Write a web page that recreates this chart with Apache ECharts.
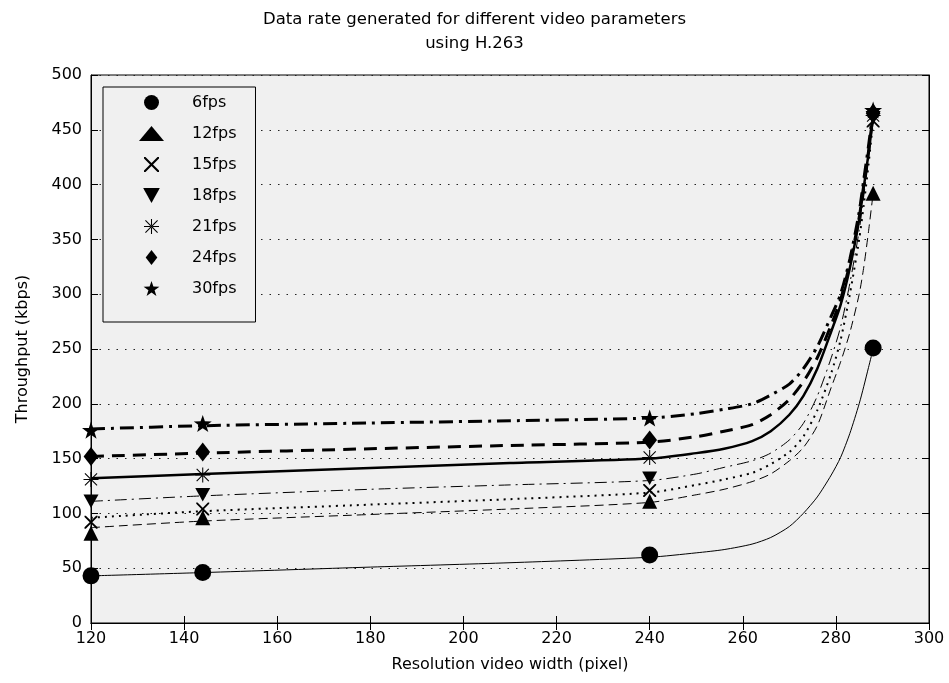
<!DOCTYPE html>
<html>
<head>
<meta charset="utf-8">
<script src="https://cdn.jsdelivr.net/npm/echarts@6/dist/echarts.min.js"></script>
<style>
  html, body { margin: 0; padding: 0; background: #fff; }
  #chart { width: 949px; height: 683px; }
</style>
</head>
<body>
<div id="chart"></div>
<script>
// measured points (x = resolution width, y = throughput kbps)
const markerX = [120, 144, 240, 288];
const fps6 = [43, 46, 62, 251];
const fps12 = [82, 96, 111, 392];
const fps15 = [92, 104, 121, 458];
const fps18 = [111, 117, 132, 461];
const fps21 = [131, 135, 151, 463];
const fps24 = [152, 156, 167, 465];
const fps30 = [176, 182, 187, 468];

// fitted curves
const curveX = [120, 144, 180, 210, 240, 250, 256, 262, 266, 270, 273, 276, 279, 281, 283, 285, 286, 287, 288];
const curve6 = [43, 46, 51, 55, 60, 64, 67, 72, 78, 88, 100, 115, 135, 151, 173, 200, 216, 233, 250];
const curve12 = [87, 93, 99, 104, 110, 117, 122, 129, 136, 148, 160, 180, 215, 238, 265, 300, 325, 357, 392];
const curve15 = [96, 102, 108, 113, 119, 126, 131, 137, 145, 156, 170, 194, 228, 258, 300, 350, 382, 418, 458];
const curve18 = [111, 116, 122, 126, 130, 136, 142, 148, 155, 167, 182, 207, 242, 270, 310, 358, 390, 422, 460];
const curve21 = [132, 136, 141.5, 146, 150, 155, 159, 166, 175, 190, 207, 232, 266, 290, 324, 368, 398, 428, 462];
const curve24 = [152, 155, 159, 162, 165, 170, 175, 181, 190, 204, 220, 242, 272, 295, 328, 370, 400, 430, 465];
const curve30 = [177, 180, 182.5, 184.5, 187, 191, 195, 200, 208, 218, 232, 252, 280, 300, 332, 375, 405, 435, 468];

const names = ["6fps", "12fps", "15fps", "18fps", "21fps", "24fps", "30fps"];

const FONT = '"DejaVu Sans", Arial, sans-serif';

const crossPath = "path://M0,0L2,0L10,8L18,0L20,0L20,2L12,10L20,18L20,20L18,20L10,12L2,20L0,20L0,18L8,10L0,2Z";
const asteriskPath = "path://M9.3,0h1.4v20h-1.4z M0,9.3h20v1.4h-20z M2.4,1.4L1.4,2.4L17.6,18.6L18.6,17.6Z M17.6,1.4L18.6,2.4L2.4,18.6L1.4,17.6Z";
const starPath = "path://M10,0L12.4,7.1L20,7.3L13.9,11.8L16.2,19L10,14.7L3.8,19L6.1,11.8L0,7.3L7.6,7.1Z";
const downTriPath = "path://M0,0L20,0L10,18Z";
const diamondPath = "path://M7,0L14,9L7,18L0,9Z";

const markers = [
  { data: fps6, symbol: "circle", size: 17 },
  { data: fps12, symbol: "triangle", size: 15 },
  { data: fps15, symbol: crossPath, size: 13 },
  { data: fps18, symbol: downTriPath, size: 15 },
  { data: fps21, symbol: asteriskPath, size: 15 },
  { data: fps24, symbol: diamondPath, size: 19 },
  { data: fps30, symbol: starPath, size: 18 }
];

const curves = [
  { data: curve6, width: 1, type: "solid" },
  { data: curve12, width: 1, type: [9, 5] },
  { data: curve15, width: 2, type: [2, 5] },
  { data: curve18, width: 1, type: [12, 5, 2, 5] },
  { data: curve21, width: 2.5, type: "solid" },
  { data: curve24, width: 3, type: [13, 8] },
  { data: curve30, width: 3, type: [14, 6, 3, 6] }
];

const chart = echarts.init(document.getElementById("chart"));

let series = [];
curves.forEach((c, i) => {
  series.push({
    name: names[i] + " fit",
    type: "line",
    data: curveX.map((x, j) => [x, c.data[j]]),
    showSymbol: false,
    smooth: 0.25,
    lineStyle: { color: "#000", width: c.width, type: c.type },
    z: 2,
    silent: true
  });
});
markers.forEach((m, i) => {
  series.push({
    name: names[i],
    type: "scatter",
    data: markerX.map((x, j) => [x, m.data[j]]),
    symbol: m.symbol,
    symbolSize: m.size,
    symbolKeepAspect: true,
    itemStyle: { color: "#000", opacity: 1 },
    z: 3
  });
});

const option = {
  animation: false,
  backgroundColor: "#fff",
  title: {
    text: "Data rate generated for different video parameters\nusing H.263",
    left: "center",
    top: 3,
    textStyle: { fontFamily: FONT, fontSize: 16.5, fontWeight: "normal", color: "#000", lineHeight: 24 }
  },
  legend: {
    data: names,
    orient: "vertical",
    left: 103,
    top: 87,
    backgroundColor: "#f0f0f0",
    borderColor: "#000",
    borderWidth: 1,
    borderRadius: 0,
    padding: [7.5, 19, 25.5, 36],
    itemWidth: 25,
    itemHeight: 15,
    itemGap: 15,
    selectedMode: false,
    textStyle: { fontFamily: FONT, fontSize: 16, color: "#000", padding: [0, 0, 0, 23] }
  },
  grid: {
    left: 91,
    right: 20,
    top: 75,
    bottom: 60,
    show: true,
    backgroundColor: "#f0f0f0",
    borderColor: "#000",
    borderWidth: 1
  },
  xAxis: [
    {
      type: "value",
      min: 120,
      max: 300,
      interval: 20,
      name: "Resolution video width (pixel)",
      nameLocation: "middle",
      nameGap: 34,
      nameTextStyle: { fontFamily: FONT, fontSize: 16, color: "#000" },
      axisLine: { lineStyle: { color: "#000" } },
      axisTick: { inside: true, length: 7, lineStyle: { color: "#000" } },
      axisLabel: { fontFamily: FONT, fontSize: 16, color: "#000", margin: 8 },
      splitLine: { show: false }
    },
    {
      type: "value",
      position: "top",
      min: 120,
      max: 300,
      interval: 20,
      axisLine: { lineStyle: { color: "#000" } },
      axisTick: { inside: true, length: 7, lineStyle: { color: "#000" } },
      axisLabel: { show: false },
      splitLine: { show: false }
    }
  ],
  yAxis: [
    {
      type: "value",
      min: 0,
      max: 500,
      interval: 50,
      name: "Throughput (kbps)",
      nameLocation: "middle",
      nameGap: 60,
      nameTextStyle: { fontFamily: FONT, fontSize: 16, color: "#000" },
      axisLine: { show: true, lineStyle: { color: "#000" } },
      axisTick: { show: true, inside: true, length: 7, lineStyle: { color: "#000" } },
      axisLabel: { fontFamily: FONT, fontSize: 16, color: "#000", margin: 9 },
      splitLine: { show: true, lineStyle: { color: "#222", width: 1, type: [1.5, 7] } }
    },
    {
      type: "value",
      position: "right",
      min: 0,
      max: 500,
      interval: 50,
      axisLine: { show: true, lineStyle: { color: "#000" } },
      axisTick: { show: true, inside: true, length: 7, lineStyle: { color: "#000" } },
      axisLabel: { show: false },
      splitLine: { show: false }
    }
  ],
  series: series
};

chart.setOption(option);
</script>
</body>
</html>
